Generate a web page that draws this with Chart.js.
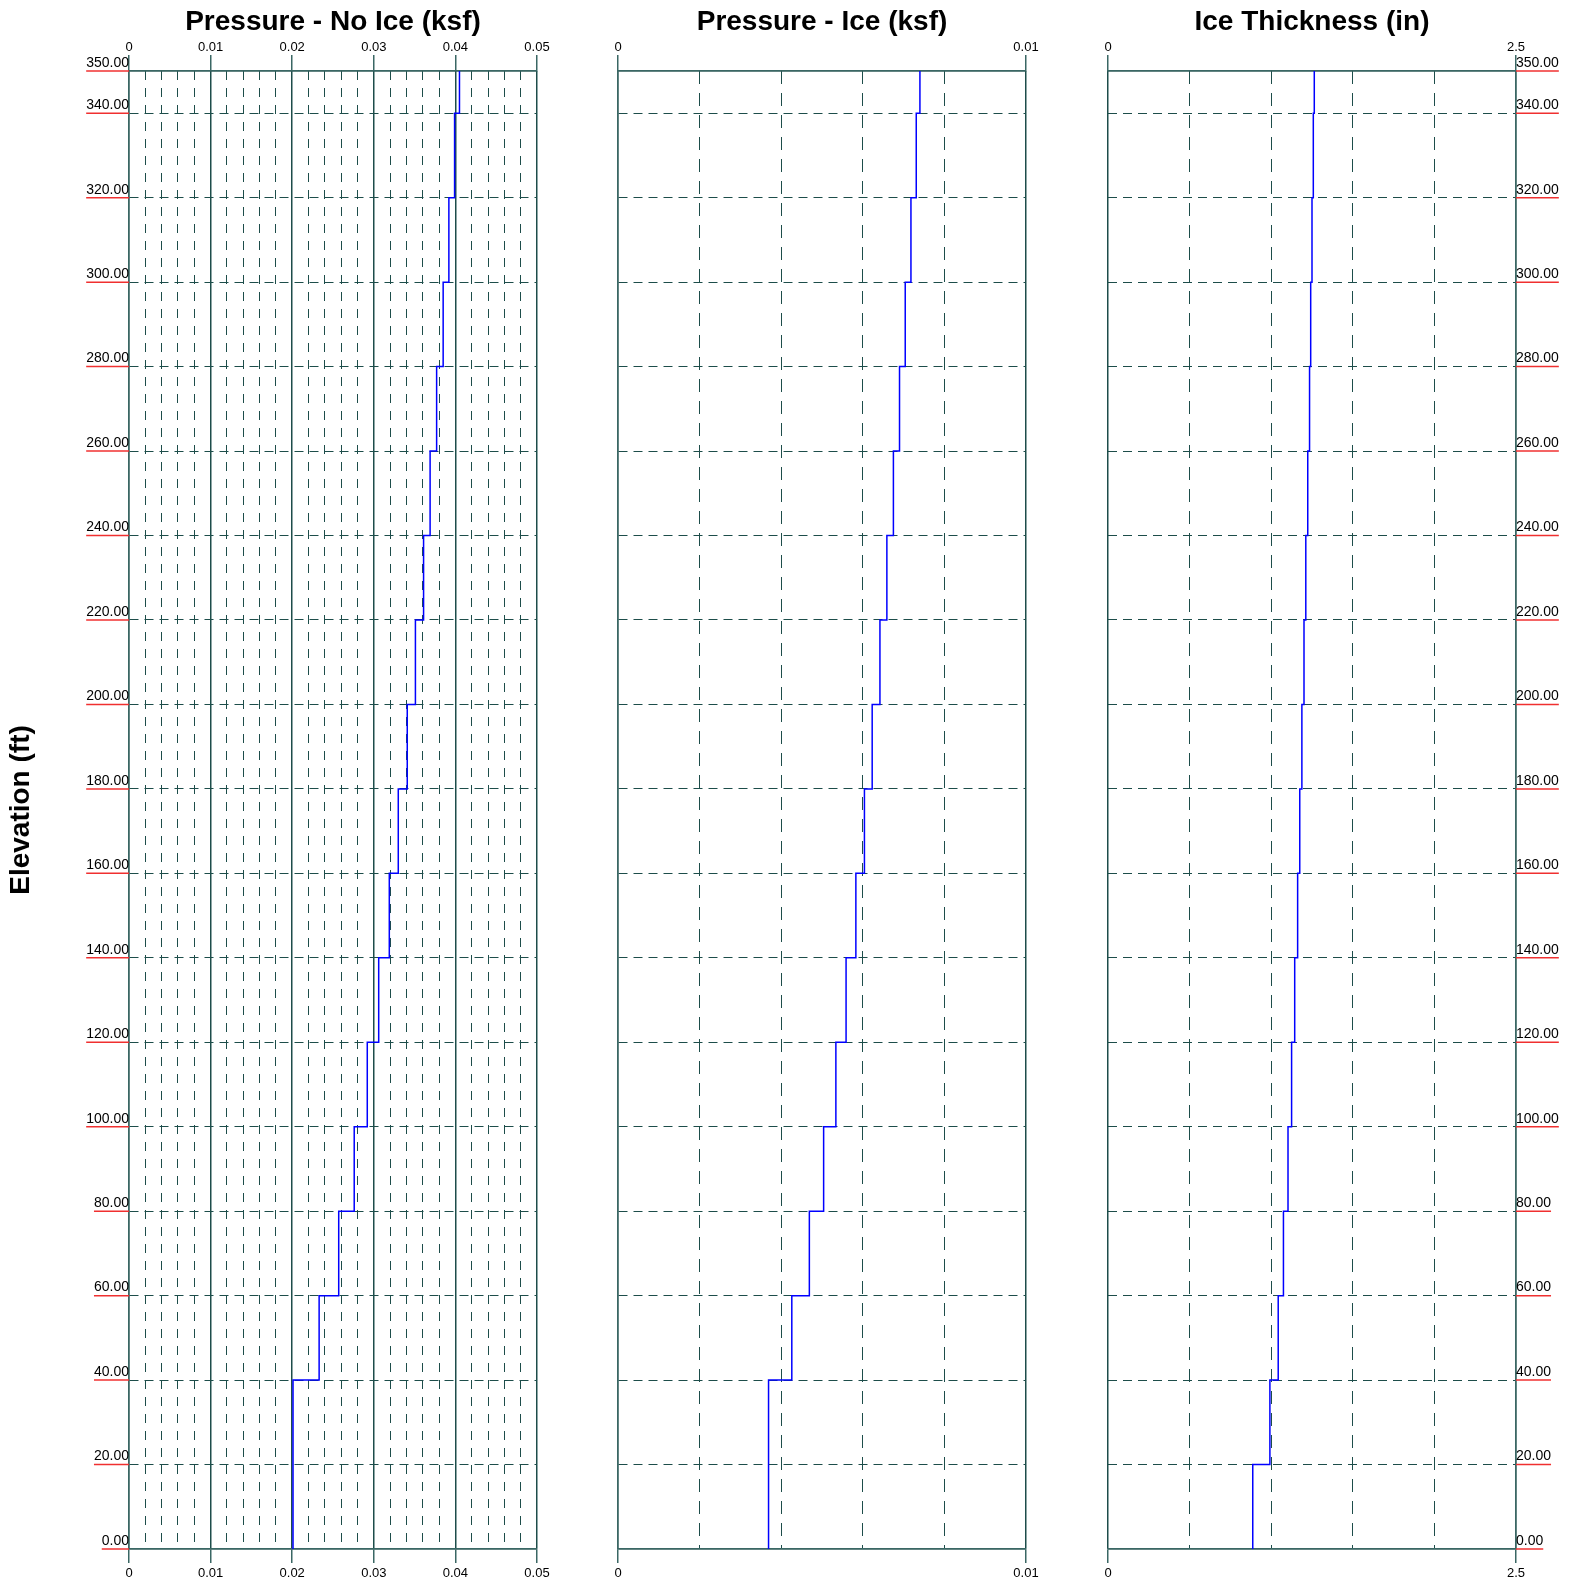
<!DOCTYPE html>
<html>
<head>
<meta charset="utf-8">
<title>Wind pressure and ice profile</title>
<script src="https://cdn.jsdelivr.net/npm/chart.js@4.4.1/dist/chart.umd.min.js"></script>
<style>
  body { margin: 0; background: #fff; }
  #wrap { position: relative; width: 1572px; height: 1583px; }
  canvas { position: absolute; top: 0; }
</style>
</head>
<body>
<div id="wrap">
  <canvas id="noIce" width="580" height="1583" style="left:0"></canvas>
  <canvas id="ice" width="490" height="1583" style="left:580px"></canvas>
  <canvas id="thickness" width="502" height="1583" style="left:1070px"></canvas>
</div>
<script>
// elevation bands (ft), each value below holds from the previous top up to this top
const bandTops = [20, 40, 60, 80, 100, 120, 140, 160, 180, 200, 220, 240, 260, 280, 300, 320, 340, 350];
const elevationTicks = [0, 20, 40, 60, 80, 100, 120, 140, 160, 180, 200, 220, 240, 260, 280, 300, 320, 340, 350];

const pressureNoIce = [0.0201, 0.0201, 0.0233, 0.0257, 0.0276, 0.0292, 0.0306, 0.0319, 0.0330,
  0.0341, 0.0351, 0.0361, 0.0369, 0.0377, 0.0385, 0.0392, 0.0399, 0.0405];
const pressureIce = [0.00369, 0.00369, 0.00426, 0.00469, 0.00504, 0.00534, 0.00559, 0.00583, 0.00604,
  0.00623, 0.00642, 0.00659, 0.00675, 0.00690, 0.00704, 0.00718, 0.00731, 0.00740];
const iceThickness = [0.887, 0.992, 1.043, 1.075, 1.103, 1.125, 1.144, 1.162, 1.175,
  1.188, 1.201, 1.212, 1.224, 1.235, 1.242, 1.250, 1.258, 1.264];

const noIceLabels = [0, 0.01, 0.02, 0.03, 0.04, 0.05];
const iceLabels = [0, 0.01];
const thicknessLabels = [0, 2.5];

const gridColor = '#1d4d4a';
const frameColor = '#3a6764';
Chart.defaults.font.family = '"Liberation Sans", Arial, sans-serif';
Chart.defaults.color = '#000';

// red rule under each elevation label
const underline = {
  id: 'underline',
  afterDraw(chart) {
    const scale = chart.scales.y;
    const ctx = chart.ctx;
    ctx.save();
    ctx.font = '14px "Liberation Sans", Arial, sans-serif';
    ctx.strokeStyle = '#f03030';
    ctx.lineWidth = 1.5;
    scale.ticks.forEach(t => {
      const w = ctx.measureText(t.label).width;
      const y = scale.getPixelForValue(t.value);
      const x0 = scale.position === 'left' ? scale.right : scale.left;
      const x1 = scale.position === 'left' ? x0 - w : x0 + w;
      ctx.beginPath();
      ctx.moveTo(x0, y);
      ctx.lineTo(x1, y);
      ctx.stroke();
    });
    ctx.restore();
  }
};

function stepPoints(values) {
  const pts = [{x: values[0], y: 0}];
  bandTops.forEach((top, i) => pts.push({x: values[i], y: top}));
  return pts;
}

function makePanel(id, p) {
  const labelled = v => p.labels.some(l => Math.abs(l - v) < 1e-9);
  const xTicks = {
    stepSize: p.step,
    autoSkip: false,
    maxRotation: 0,
    font: {size: 13},
    callback: v => labelled(v) ? String(v) : ''
  };
  const xGrid = {
    color: gridColor,
    lineWidth: c => labelled(c.tick.value) ? 1.5 : 1,
    tickColor: c => labelled(c.tick.value) ? frameColor : 'rgba(0,0,0,0)',
    tickWidth: 1.5
  };
  const xDash = c => (!c.tick || labelled(c.tick.value)) ? [] : p.xDash;

  new Chart(document.getElementById(id), {
    type: 'scatter',
    data: {
      datasets: [{
        data: stepPoints(p.values),
        showLine: true,
        stepped: true,
        borderColor: '#0000ff',
        borderWidth: 1.5,
        pointRadius: 0,
        fill: false
      }]
    },
    options: {
      responsive: false,
      animation: false,
      events: [],
      layout: {padding: p.padding},
      plugins: {
        legend: {display: false},
        tooltip: {enabled: false},
        title: {
          display: true,
          text: p.title,
          fullSize: false,
          font: {size: 28, weight: 'bold'},
          color: '#000',
          padding: {top: 5, bottom: 0}
        }
      },
      scales: {
        x: {
          type: 'linear', position: 'bottom', min: 0, max: p.max,
          ticks: Object.assign({padding: 3}, xTicks),
          grid: Object.assign({tickLength: 14}, xGrid),
          border: {color: frameColor, width: 1.5, dash: xDash},
          afterFit: s => { s.height = 34; }
        },
        xTop: {
          type: 'linear', position: 'top', min: 0, max: p.max,
          ticks: Object.assign({padding: 0}, xTicks),
          grid: Object.assign({tickLength: 16, drawOnChartArea: false}, xGrid),
          border: {color: frameColor, width: 1.5},
          afterFit: s => { s.height = 32.4; }
        },
        y: {
          type: 'linear', position: p.yPosition, min: 0, max: 350,
          afterBuildTicks: s => { s.ticks = elevationTicks.map(v => ({value: v})); },
          ticks: {
            display: p.yLabels,
            autoSkip: false,
            padding: 0,
            labelOffset: -8,
            font: {size: 14},
            callback: v => v.toFixed(2)
          },
          grid: {
            color: gridColor,
            drawTicks: false,
            lineWidth: c => (c.tick.value === 0 || c.tick.value === 350) ? 1.5 : 1
          },
          border: {
            color: frameColor, width: 1.5,
            dash: c => (!c.tick || c.tick.value === 0 || c.tick.value === 350) ? [] : [9, 6]
          },
          title: {
            display: !!p.yTitle,
            text: p.yTitle || '',
            font: {size: 28, weight: 'bold'},
            color: '#000',
            padding: {top: 4, bottom: 0}
          },
          afterFit: s => { s.width = p.yWidth; }
        }
      }
    },
    plugins: p.yLabels ? [underline] : []
  });
}

makePanel('noIce', {
  title: 'Pressure - No Ice (ksf)', values: pressureNoIce, max: 0.05, step: 0.002,
  labels: noIceLabels, xDash: [9, 8], yPosition: 'left', yLabels: true,
  yTitle: 'Elevation (ft)', yWidth: 129, padding: {left: 0, right: 43}
});
makePanel('ice', {
  title: 'Pressure - Ice (ksf)', values: pressureIce, max: 0.01, step: 0.002,
  labels: iceLabels, xDash: [13, 9], yPosition: 'left', yLabels: false,
  yWidth: 38, padding: {left: 0, right: 44}
});
makePanel('thickness', {
  title: 'Ice Thickness (in)', values: iceThickness, max: 2.5, step: 0.5,
  labels: thicknessLabels, xDash: [13, 9], yPosition: 'right', yLabels: true,
  yWidth: 56, padding: {left: 38, right: 0}
});
</script>
</body>
</html>
